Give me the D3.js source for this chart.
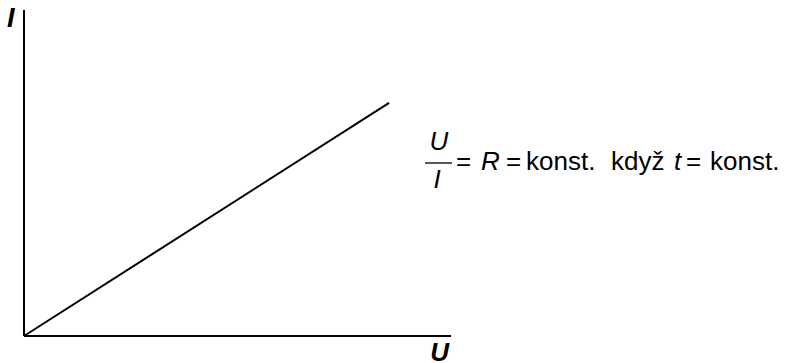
<!DOCTYPE html>
<html>
<head>
<meta charset="utf-8">
<script src="https://cdn.jsdelivr.net/npm/d3@7"></script>
<style>
  body { margin: 0; background: #fff; }
  text { font-family: "Liberation Sans", Arial, sans-serif; fill: #000; }
</style>
</head>
<body>
<svg width="785" height="363"></svg>
<script>
// Ohm's law sketch: I grows linearly with U

var uValues = [0, 8.55];   // voltage (arbitrary units)
var iValues = [0, 7.15];   // current (arbitrary units)
var axisMax = [10, 10];
var axisNames = ["U", "I"];

var svg = d3.select("svg"),
    width = +svg.attr("width"),
    height = +svg.attr("height");

var x = d3.scaleLinear().domain([0, axisMax[0]]).range([24, 451]);
var y = d3.scaleLinear().domain([0, axisMax[1]]).range([336, 10]);

// axes, no ticks
svg.append("line")
    .attr("x1", x(0)).attr("y1", y(0))
    .attr("x2", x(0)).attr("y2", y(axisMax[1]))
    .attr("stroke", "#000").attr("stroke-width", 2);
svg.append("line")
    .attr("x1", x(0)).attr("y1", y(0))
    .attr("x2", x(axisMax[0])).attr("y2", y(0))
    .attr("stroke", "#000").attr("stroke-width", 2);

// axis names
svg.append("text")
    .attr("x", x(axisMax[0]) - 2).attr("y", 361)
    .attr("text-anchor", "end")
    .style("font-size", "26px").style("font-weight", "bold").style("font-style", "italic")
    .text(axisNames[0]);
svg.append("text")
    .attr("x", 7).attr("y", 27)
    .style("font-size", "27px").style("font-weight", "bold").style("font-style", "italic")
    .text(axisNames[1]);

// the line
var pts = uValues.map(function (u, i) { return [u, iValues[i]]; });
svg.append("path")
    .datum(pts)
    .attr("fill", "none")
    .attr("stroke", "#000")
    .attr("stroke-width", 2)
    .attr("d", d3.line().x(function (d) { return x(d[0]); }).y(function (d) { return y(d[1]); }));

// formula U/I = R = konst. když t = konst.
var f = svg.append("g").attr("transform", "translate(425,170)");
f.append("text").attr("x", 14).attr("y", -20).attr("text-anchor", "middle")
    .style("font-size", "26px").style("font-style", "italic").text("U");
f.append("line").attr("x1", 0).attr("x2", 27).attr("y1", -7).attr("y2", -7)
    .attr("stroke", "#000").attr("stroke-width", 1.3);
f.append("text").attr("x", 12).attr("y", 18).attr("text-anchor", "middle")
    .style("font-size", "26px").style("font-style", "italic").text("I");

// [text, x offset, italic]
var parts = [["=", 31, false], ["R", 56, true], ["=", 81, false], ["konst.", 101, false],
             ["když", 186, false], ["t", 249, true], ["=", 261, false], ["konst.", 285, false]];
f.selectAll("text.part")
    .data(parts)
    .enter().append("text")
    .attr("class", "part")
    .attr("x", function (d) { return d[1]; })
    .attr("y", 0)
    .style("font-size", "26px")
    .style("font-style", function (d) { return d[2] ? "italic" : "normal"; })
    .text(function (d) { return d[0]; });
</script>
</body>
</html>
